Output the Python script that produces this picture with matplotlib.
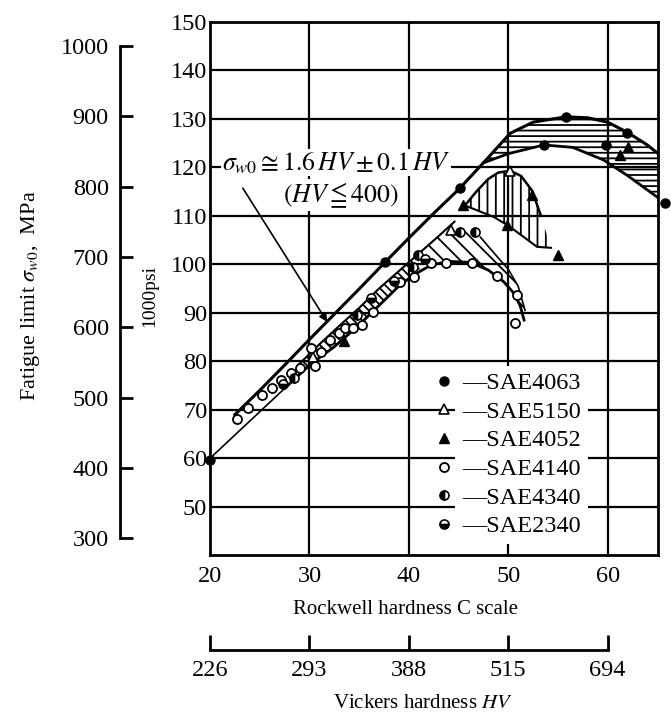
import numpy as np
import matplotlib
matplotlib.use('Agg')
import matplotlib.pyplot as plt

plt.rcParams['font.family'] = ['Liberation Serif', 'DejaVu Serif', 'DejaVu Sans']
plt.rcParams['mathtext.fontset'] = 'stix'
plt.rcParams['hatch.linewidth'] = 1.3
plt.rcParams['hatch.color'] = 'black'

# ---- data (Rockwell HRC, fatigue limit in 1000 psi) ----
# SAE series
sae4063_hrc = [20, 37.6, 45.2, 53.6, 55.8, 59.8, 62.0, 65.8]
sae4063_ksi = [59.6, 100.5, 115.7, 124.6, 130.4, 124.6, 127.1, 112.7]
sae5150_hrc = [44.2, 50.2, 30.4]
sae5150_ksi = [107.1, 119.2, 80.8]
sae4052_hrc = [33.5, 45.5, 49.9, 52.4, 55.0, 61.3, 62.1]
sae4052_ksi = [84.2, 112.2, 108.1, 114.3, 101.9, 122.6, 124.2]
sae4140_hrc = [22.7, 23.8, 25.2, 26.2, 27.1, 28.1, 29.1, 30.2, 30.6, 31.2, 32.1,
               33.0, 33.6, 34.4, 35.3, 36.4, 39.1, 40.5, 42.2, 43.7, 46.4,
               48.9, 50.9, 50.7]
sae4140_ksi = [68.2, 70.3, 73.0, 74.6, 76.1, 77.6, 78.6, 82.7, 79.0, 82.0, 84.4,
               85.8, 86.9, 86.9, 87.5, 90.2, 96.3, 97.4, 100.3, 100.3, 100.3,
               97.6, 93.7, 88.0]
sae4340_hrc = [45.2, 46.7, 40.9, 40.4, 28.4, 34.8]
sae4340_ksi = [106.7, 106.7, 101.9, 99.4, 76.5, 89.5]
sae2340_hrc = [36.2, 38.5, 41.6, 27.3]
sae2340_ksi = [93.0, 96.5, 101.0, 75.4]

# envelope curves
upper_hrc = [22.5, 25, 27.5, 30, 32.5, 35, 37.5, 40, 42.5, 45, 47.5,
             50.2, 52.5, 55.8, 58, 60, 62, 64, 65.1]
upper_ksi = [69, 74, 79.2, 84.5, 89.7, 94.9, 100.2, 105.4, 110.5, 115.4, 120.9,
             127.0, 129.3, 130.4, 130.2, 129.3, 127.2, 124.6, 122.8]
inner_hrc = [29, 31, 33, 35, 37, 39, 41, 43, 44.6]
inner_ksi = [79.5, 83.5, 87.3, 91.0, 95.0, 98.6, 102.2, 105.8, 108.8]
lower_hrc = [20, 22.5, 25, 27.5, 30, 32.5, 35, 37, 39, 40.5, 42.2, 44, 46.2,
             48, 49.5, 50.5, 51.2, 51.6]
lower_ksi = [60, 64.8, 69.6, 74.4, 79.2, 83, 87.5, 91.5, 95.5, 97.8, 99.8, 100.6,
             100.4, 98.8, 96.5, 94.2, 91.5, 88.5]
# band ladder (29..41)
ladder_up_hrc = [29, 31, 33, 35, 37, 39, 41]
ladder_up_ksi = [79.5, 83.5, 87.3, 91.0, 95.0, 98.6, 102.2]
ladder_lo_hrc = [29, 30, 32.5, 35, 37, 39, 41]
ladder_lo_ksi = [77.2, 79.2, 83, 87.5, 91.5, 95.5, 98.9]
# diagonal region (SAE5150/4140/4340)
diag_up_hrc = [41, 43, 44.5, 46, 47.2, 48.5, 50, 51, 51.7]
diag_up_ksi = [102.2, 105.8, 107.2, 106.8, 105.6, 102.5, 99, 95.5, 90.5]
diag_lo_hrc = [41, 42.2, 44, 46.2, 48, 49.5, 50.5, 51.2, 51.6]
diag_lo_ksi = [98.9, 99.8, 100.6, 100.4, 98.8, 96.5, 94.2, 91.5, 88.5]
# vertical region (SAE4052)
vert_up_hrc = [45.8, 46.8, 48, 49, 50.2, 51.3, 52.4, 53.3, 54.3]
vert_up_ksi = [112.5, 115, 117.6, 118.9, 119.3, 118.2, 115.2, 110, 103.4]
vert_lo_hrc = [45.8, 48.5, 50, 52.9, 54.3]
vert_lo_ksi = [112, 109.8, 108, 103.6, 103.4]
# horizontal region (SAE4063)
horiz_up_hrc = [47.5, 50.2, 52.5, 55.8, 58, 60, 62, 64, 65.1]
horiz_up_ksi = [120.9, 127.0, 129.3, 130.4, 130.2, 129.3, 127.2, 124.6, 122.8]
horiz_lo_hrc = [47.5, 50, 53.6, 56.5, 59.6, 62, 65.1]
horiz_lo_ksi = [120.9, 122.8, 124.6, 124.1, 121.5, 118.3, 113.7]

rockwell_ticks = [20, 30, 40, 50, 60]
vickers_labels = ['226', '293', '388', '515', '694']
ksi_ticks = [50, 60, 70, 80, 90, 100, 110, 120, 130, 140, 150]
mpa_ticks = [300, 400, 500, 600, 700, 800, 900, 1000]
KSI_TO_MPA = 6.895

fs = 17.5

fig = plt.figure(figsize=(6.71, 7.25), dpi=100)
ax = fig.add_axes([0.313, 0.234, 0.668, 0.736])
ax.set_xlim(20, 65.1)
ax.set_ylim(40, 150)
ax.set_axisbelow(True)
ax.set_xticks(rockwell_ticks)
ax.set_yticks(ksi_ticks)
ax.grid(True, color='black', linewidth=1.6)
ax.tick_params(length=0, labelsize=fs)
ax.tick_params(axis='x', pad=8)
ax.tick_params(axis='y', pad=2)
for sp in ax.spines.values():
    sp.set_linewidth(2)


def region(xu, yu, xl, yl, hatch):
    px = list(xu) + list(xl)[::-1]
    py = list(yu) + list(yl)[::-1]
    ax.fill(px, py, facecolor='none', edgecolor='black', hatch=hatch,
            linewidth=0, zorder=2)


region(ladder_up_hrc, ladder_up_ksi, ladder_lo_hrc, ladder_lo_ksi, '\\\\\\\\')
region(diag_up_hrc, diag_up_ksi, diag_lo_hrc, diag_lo_ksi, '\\\\')
region(vert_up_hrc, vert_up_ksi, vert_lo_hrc, vert_lo_ksi, '||')
region(horiz_up_hrc, horiz_up_ksi, horiz_lo_hrc, horiz_lo_ksi, '---')

# envelope lines
ax.plot(upper_hrc, upper_ksi, color='black', lw=2.2, zorder=3)
ax.plot(inner_hrc, inner_ksi, color='black', lw=1.5, zorder=3)
ax.plot(lower_hrc[:4], lower_ksi[:4], color='black', lw=1.2, zorder=3)
ax.plot(lower_hrc[3:], lower_ksi[3:], color='black', lw=2.0, zorder=3)
ax.plot(diag_up_hrc[4:], diag_up_ksi[4:], color='black', lw=1.2, zorder=3)
ax.plot(vert_up_hrc[:8], vert_up_ksi[:8], color='black', lw=1.8, zorder=3)
ax.plot(vert_lo_hrc, vert_lo_ksi, color='black', lw=1.5, zorder=3)
ax.plot(horiz_lo_hrc, horiz_lo_ksi, color='black', lw=2.0, zorder=3)

# data points
ms = 6.5
h1, = ax.plot(sae4063_hrc, sae4063_ksi, 'o', color='black', ms=ms, ls='none',
              zorder=5, clip_on=False, label='\u2014SAE4063')
h2, = ax.plot(sae5150_hrc, sae5150_ksi, '^', mfc='white', mec='black', mew=1.2,
              ms=ms, ls='none', zorder=5, label='\u2014SAE5150')
h3, = ax.plot(sae4052_hrc, sae4052_ksi, '^', color='black', ms=ms, ls='none',
              zorder=5, label='\u2014SAE4052')
h4, = ax.plot(sae4140_hrc, sae4140_ksi, 'o', mfc='white', mec='black', mew=1.3,
              ms=ms, ls='none', zorder=5, label='\u2014SAE4140')
h5, = ax.plot(sae4340_hrc, sae4340_ksi, 'o', mfc='black', mfcalt='white',
              fillstyle='left', mec='black', mew=1.2, ms=ms, ls='none',
              zorder=5, label='\u2014SAE4340')
h6, = ax.plot(sae2340_hrc, sae2340_ksi, 'o', mfc='black', mfcalt='white',
              fillstyle='bottom', mec='black', mew=1.2, ms=ms, ls='none',
              zorder=5, label='\u2014SAE2340')

leg = ax.legend(handles=[h1, h2, h3, h4, h5, h6], loc='upper left',
                bbox_to_anchor=(0.5, 0.343), frameon=False, fontsize=fs,
                handlelength=0.8, handletextpad=0.35, labelspacing=0.27,
                borderpad=0, borderaxespad=0)
for t in leg.get_texts():
    t.set_bbox(dict(facecolor='white', edgecolor='none', pad=5))

# formula annotation
ax.text(21.2, 120.9, r'$\sigma_{w0}\cong 1.6\,HV \pm 0.1\,HV$', fontsize=18.5,
        ha='left', va='center', zorder=6,
        bbox=dict(facecolor='white', edgecolor='none', pad=0.5))
ax.text(33.2, 114.3, r'$(HV \leqq 400)$', fontsize=18.5, ha='center',
        va='center', zorder=6,
        bbox=dict(facecolor='white', edgecolor='none', pad=0.5))
ax.annotate('', xy=(31.8, 88.1), xytext=(23.3, 115.7),
            arrowprops=dict(arrowstyle='-|>', color='black', lw=1.2,
                            mutation_scale=12, shrinkA=0, shrinkB=0), zorder=6)

# MPa scale on the far left
ax2 = ax.twinx()
ax2.set_ylim(40 * KSI_TO_MPA, 150 * KSI_TO_MPA)
ax2.yaxis.set_ticks_position('left')
ax2.spines['left'].set_position(('axes', -0.201))
ax2.spines['left'].set_visible(True)
ax2.spines['left'].set_bounds(300, 1000)
ax2.spines['left'].set_linewidth(2)
for s in ['right', 'top', 'bottom']:
    ax2.spines[s].set_visible(False)
ax2.set_yticks(mpa_ticks)
ax2.tick_params(axis='y', direction='in', length=9, width=2, labelsize=fs, pad=8)

# Vickers scale below
ax3 = ax.twiny()
ax3.set_xlim(ax.get_xlim())
ax3.xaxis.set_ticks_position('bottom')
ax3.spines['bottom'].set_position(('outward', 68))
ax3.spines['bottom'].set_bounds(20, 60)
ax3.spines['bottom'].set_linewidth(2)
for s in ['left', 'right', 'top']:
    ax3.spines[s].set_visible(False)
ax3.set_xticks(rockwell_ticks)
ax3.set_xticklabels(vickers_labels)
ax3.tick_params(axis='x', direction='in', length=11, width=2, labelsize=fs, pad=7)

# axis titles
fig.text(0.045, 0.592, r'Fatigue limit $\sigma_{w0}$,  MPa', rotation=90,
         fontsize=16, ha='center', va='center')
fig.text(0.2235, 0.592, '1000psi', rotation=90, fontsize=14, ha='center',
         va='center')
fig.text(0.605, 0.160, 'Rockwell hardness C scale', fontsize=15, ha='center',
         va='center')
fig.text(0.630, 0.030, r'Vickers hardness $HV$', fontsize=15, ha='center',
         va='center')

fig.savefig('out.png', dpi=100)
